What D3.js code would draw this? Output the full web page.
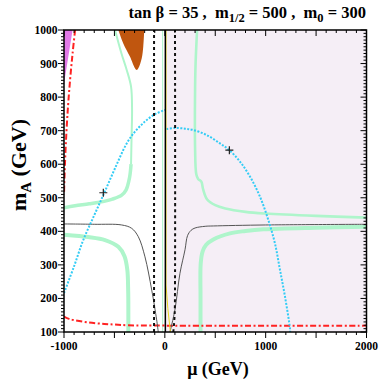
<!DOCTYPE html>
<html><head><meta charset="utf-8">
<script src="https://cdn.jsdelivr.net/npm/d3@7"></script>
<style>body{margin:0;background:#fff}svg{display:block}</style>
</head><body>
<script>
// ---- data (mu [GeV], mA [GeV]) ----
const xDomain = [-1000, 2000];
const yDomain = [100, 1000];
const xTickLabels = [-1000, 0, 1000, 2000];
const yTickLabels = [100, 200, 300, 400, 500, 600, 700, 800, 900, 1000];
const lavenderRegion = [[8, 100], [2000, 100], [2000, 1000], [8, 1000]];
const magentaRegion = [[-1000, 1000], [-915, 1000], [-1000, 840]];
const brownRegion = [[-461,1000],[-412,960],[-345,920],[-296,886],[-279,881],[-263,886],[-229,916],[-214,950],[-204,1000]];
const greenUpperLeftTop = [[-494,1000],[-430,930],[-378,881],[-335,831],[-325,760],[-330,680],[-335,600]];
const greenUpperLeftBend = [[-335,600],[-350,560],[-385,523],[-428,508],[-520,496],[-593,490],[-750,482],[-891,476],[-1000,470]];
const greenLowerLeft = [[-1000,390],[-850,386],[-759,383],[-593,374],[-461,354],[-400,326],[-372,285],[-364,230],[-362,186],[-362,100]];
const greenUpperRight = [[320,1000],[305,900],[300,820],[300,650],[312,570],[330,556],[362,548],[380,525],[420,495],[500,478],[600,468],[800,458],[1000,453],[1500,446],[2000,441]];
const greenLowerRight = [[354,100],[354,200],[356,305],[375,340],[410,360],[481,376],[646,394],[800,401],[977,406],[1500,411],[2000,414]];
const greenThin = [[-22,100],[-22,1000]];
const redUpper = [[-890,1000],[-915,930],[-940,850],[-963,760],[-982,660],[-993,580],[-1000,510]];
const redLower = [[-1000,146],[-950,139],[-891,135],[-750,128],[-600,124],[-494,122],[-365,120],[0,119],[2000,119]];
const blackLeft = [[-1000,422],[-700,421],[-428,419],[-329,409],[-263,384],[-197,324],[-130,225],[-81,136],[-65,100]];
const blackRight = [[51,100],[100,166],[150,275],[200,345],[225,387],[260,403],[300,410],[400,415],[481,416],[1000,419],[2000,421]];
const blueLeft = [[-1000,216],[-900,296],[-809,374],[-700,448],[-603,513],[-494,588],[-378,662],[-296,697],[-197,727],[-98,749],[-15,760],[2,762]];
const blueRight = [[15,705],[100,708],[200,706],[282,702],[415,687],[547,662],[639,642],[745,608],[845,563],[944,503],[1026,434],[1092,364],[1142,285],[1192,205],[1241,111],[1243,100]];
const dashedLeft = [[-107,100],[-107,1000]];
const dashedRight = [[84,100],[97,150],[101,250],[101,1000]];
const solidBlack = [[5,100],[5,1000]];
const yellowLine = [[12,1000],[12,240],[30,170],[55,100]];
const crosses = [[-610,515],[640,642]];

// ---- layout ----
const W = 379, H = 382;
const L = 64, R = 366.5, T = 30, B = 332;
const svg = d3.select("body").append("svg").attr("width", W).attr("height", H);
const x = d3.scaleLinear().domain(xDomain).range([L, R]);
const y = d3.scaleLinear().domain(yDomain).range([B, T]);

svg.append("defs").append("clipPath").attr("id","clip")
  .append("rect").attr("x",L).attr("y",T).attr("width",R-L).attr("height",B-T);
const g = svg.append("g").attr("clip-path","url(#clip)");

const lineLin = d3.line().x(d=>x(d[0])).y(d=>y(d[1]));
const lineSm = d3.line().x(d=>x(d[0])).y(d=>y(d[1])).curve(d3.curveCatmullRom.alpha(0.5));

g.append("path").attr("d", lineLin(lavenderRegion)+"Z").attr("fill","#f5eef6");
g.append("path").attr("d", lineLin(magentaRegion)+"Z").attr("fill","#e27ae8");
g.append("path").attr("d", lineSm(brownRegion)+"Z").attr("fill","#c0560f");

const green = "#aef5cb";
function band(data, w){ g.append("path").attr("d", lineSm(data)).attr("fill","none")
  .attr("stroke", green).attr("stroke-width", w).attr("stroke-linejoin","round"); }
band(greenUpperLeftTop, 2);
band(greenUpperLeftBend, 3.5);
band(greenLowerLeft, 4);
band(greenUpperRight, 2.6);
band(greenLowerRight, 4);
band(greenThin, 1);

const red = "#ff2222";
[redUpper, redLower].forEach(d => g.append("path").attr("d", lineSm(d)).attr("fill","none")
  .attr("stroke", red).attr("stroke-width", 2).attr("stroke-dasharray","6,2.5,2,2.5"));

[blackLeft, blackRight].forEach(d => g.append("path").attr("d", lineSm(d)).attr("fill","none")
  .attr("stroke", "#555").attr("stroke-width", 1));

[blueLeft, blueRight].forEach(d => g.append("path").attr("d", lineSm(d)).attr("fill","none")
  .attr("stroke", "#33ccf5").attr("stroke-width", 2).attr("stroke-dasharray","2,1.5"));

[dashedLeft, dashedRight].forEach(d => g.append("path").attr("d", lineSm(d)).attr("fill","none")
  .attr("stroke", "#111").attr("stroke-width", 2).attr("stroke-dasharray","3,3"));

g.append("path").attr("d", lineLin(yellowLine)).attr("fill","none").attr("stroke","#e8d820").attr("stroke-width",1);
g.append("path").attr("d", lineLin(solidBlack)).attr("fill","none").attr("stroke","#000").attr("stroke-width",1.5);

crosses.forEach(d => {
  const cx = x(d[0]), cy = y(d[1]);
  g.append("path").attr("d", `M${cx-4},${cy}H${cx+4}M${cx},${cy-4}V${cy+4}`)
    .attr("stroke","#222").attr("stroke-width",1.2);
});

// ---- axes ----
const axG = svg.append("g");
axG.append("rect").attr("x",L).attr("y",T).attr("width",R-L).attr("height",B-T)
  .attr("fill","none").attr("stroke","#000").attr("stroke-width",1.5);

const yMinor = d3.range(100, 1001, 10);
const xMinor = d3.range(-1000, 2001, 100);
yMinor.forEach(v => {
  const major = v % 100 === 0;
  const len = major ? 6 : 3;
  axG.append("line").attr("x1",L-len).attr("x2",L).attr("y1",y(v)).attr("y2",y(v)).attr("stroke","#000").attr("stroke-width",1);
  axG.append("line").attr("x1",R-len).attr("x2",R).attr("y1",y(v)).attr("y2",y(v)).attr("stroke","#000").attr("stroke-width",1);
});
xMinor.forEach(v => {
  const major = v % 500 === 0;
  const len = major ? 6 : 3;
  axG.append("line").attr("x1",x(v)).attr("x2",x(v)).attr("y1",B).attr("y2",B+len).attr("stroke","#000").attr("stroke-width",1);
  axG.append("line").attr("x1",x(v)).attr("x2",x(v)).attr("y1",T).attr("y2",T+len).attr("stroke","#000").attr("stroke-width",1);
});

const font = "'Liberation Serif','Times New Roman',serif";
yTickLabels.forEach(v => axG.append("text").attr("x", L-6.5).attr("y", y(v)+4)
  .attr("text-anchor","end").attr("font-family",font).attr("font-weight","bold").attr("font-size",11.5).text(v));
xTickLabels.forEach(v => axG.append("text").attr("x", x(v)).attr("y", 350)
  .attr("text-anchor","middle").attr("font-family",font).attr("font-weight","bold").attr("font-size",11.5).text(v));

// x title
svg.append("text").attr("x", 218).attr("y", 375).attr("text-anchor","middle")
  .attr("font-family",font).attr("font-weight","bold").attr("font-size",18).text("μ (GeV)");

// y title
const yt = svg.append("text").attr("transform","translate(26,165) rotate(-90)").attr("text-anchor","middle")
  .attr("font-family",font).attr("font-weight","bold").attr("font-size",22).style("white-space","pre");
yt.append("tspan").text("m");
yt.append("tspan").attr("dy",5).attr("font-size",15).text("A");
yt.append("tspan").attr("dy",-5).text(" (GeV)");

// title
const tt = svg.append("text").attr("x", 366).attr("y", 18).attr("text-anchor","end")
  .attr("font-family",font).attr("font-weight","bold").attr("font-size",16.5).style("white-space","pre");
tt.append("tspan").text("tan β = 35 ,  m");
tt.append("tspan").attr("dy",4).attr("font-size",12.5).text("1/2");
tt.append("tspan").attr("dy",-4).text(" = 500 ,  m");
tt.append("tspan").attr("dy",4).attr("font-size",12.5).text("0");
tt.append("tspan").attr("dy",-4).text(" = 300");
</script>
</body></html>
